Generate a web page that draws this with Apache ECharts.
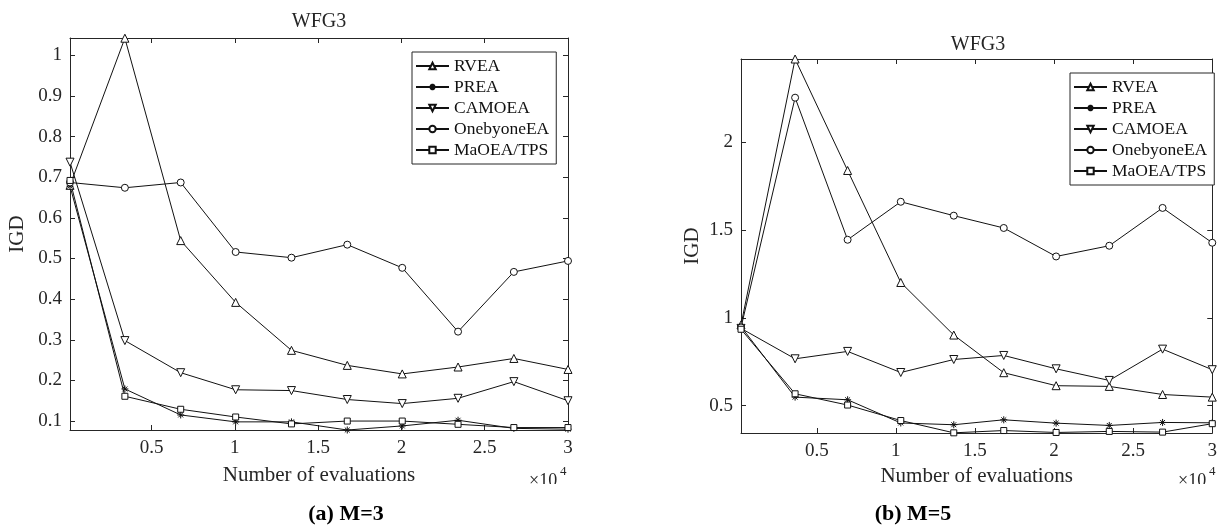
<!DOCTYPE html>
<html>
<head>
<meta charset="utf-8">
<title>WFG3 IGD convergence</title>
<script src="https://cdn.jsdelivr.net/npm/echarts@6/dist/echarts.min.js"></script>
<style>
  html, body { margin: 0; padding: 0; background: #fff; }
  #chart { width: 1220px; height: 529px; }
</style>
</head>
<body>
<div id="chart"></div>
<script>
// Algorithms compared
const algorithms = ['RVEA', 'PREA', 'CAMOEA', 'OnebyoneEA', 'MaOEA/TPS'];

// (a) M=3 : evaluations and IGD per algorithm
const evalsM3 = [105, 3400, 6750, 10050, 13400, 16750, 20050, 23400, 26750, 30000];
const rveaM3 = [0.680, 1.042, 0.544, 0.392, 0.274, 0.237, 0.216, 0.233, 0.254, 0.227];
const preaM3 = [0.678, 0.179, 0.115, 0.098, 0.098, 0.078, 0.088, 0.102, 0.082, 0.080];
const camoeaM3 = [0.737, 0.298, 0.219, 0.177, 0.175, 0.153, 0.143, 0.156, 0.197, 0.150];
const onebyoneM3 = [0.687, 0.674, 0.687, 0.516, 0.502, 0.534, 0.477, 0.320, 0.467, 0.494];
const maoeaM3 = [0.692, 0.161, 0.129, 0.110, 0.093, 0.100, 0.100, 0.092, 0.084, 0.084];

// (b) M=5 : evaluations and IGD per algorithm
const evalsM5 = [210, 3630, 6950, 10310, 13660, 16820, 20130, 23490, 26860, 30000];
const rveaM5 = [0.960, 2.472, 1.838, 1.201, 0.902, 0.688, 0.614, 0.610, 0.564, 0.549];
const preaM5 = [0.950, 0.549, 0.534, 0.402, 0.392, 0.420, 0.401, 0.388, 0.405, 0.403];
const camoeaM5 = [0.940, 0.767, 0.809, 0.689, 0.763, 0.786, 0.710, 0.644, 0.822, 0.705];
const onebyoneM5 = [0.945, 2.252, 1.444, 1.660, 1.581, 1.511, 1.349, 1.410, 1.625, 1.427];
const maoeaM5 = [0.935, 0.568, 0.504, 0.416, 0.346, 0.359, 0.348, 0.354, 0.350, 0.398];

// Tick values
const xTicks = [5000, 10000, 15000, 20000, 25000, 30000];
const yTicksM3 = [0.1, 0.2, 0.3, 0.4, 0.5, 0.6, 0.7, 0.8, 0.9, 1];
const yTicksM5 = [0.5, 1, 1.5, 2];

const FONT = '"Liberation Serif", "Times New Roman", serif';
const INK = '#262626';

const asterisk = 'path://M5,0L5,10M0,5L10,5M1.5,1.5L8.5,8.5M1.5,8.5L8.5,1.5';
const markerStyle = [
  { symbol: 'triangle', symbolSize: 8, symbolRotate: 0 },
  { symbol: asterisk, symbolSize: 7, symbolRotate: 0 },
  { symbol: 'triangle', symbolSize: 8, symbolRotate: 180 },
  { symbol: 'circle', symbolSize: 7, symbolRotate: 0 },
  { symbol: 'rect', symbolSize: 6, symbolRotate: 0 }
];

function pairs(xs, ys) { return xs.map((x, i) => [x, ys[i]]); }

function makeSeries(gridIdx, xs, ysList) {
  return ysList.map((ys, k) => ({
    name: algorithms[k],
    type: 'line',
    xAxisIndex: gridIdx * 2,
    yAxisIndex: gridIdx * 2,
    data: pairs(xs, ys),
    symbol: markerStyle[k].symbol,
    symbolSize: markerStyle[k].symbolSize,
    symbolRotate: markerStyle[k].symbolRotate,
    showAllSymbol: true,
    lineStyle: { color: '#111', width: 1 },
    itemStyle: { color: '#fff', borderColor: '#111', borderWidth: 1 },
    emphasis: { disabled: true },
    z: 2
  }));
}

function xAxes(gridIdx, minX, nameGap) {
  const common = {
    gridIndex: gridIdx, type: 'value', min: minX, max: 30000,
    axisLine: { show: true, onZero: false, lineStyle: { color: INK, width: 1 } },
    axisTick: { show: true, inside: true, length: 5, customValues: xTicks, lineStyle: { color: INK } },
    splitLine: { show: false }
  };
  return [
    Object.assign({}, common, {
      position: 'bottom',
      axisLabel: {
        customValues: xTicks, margin: 9, color: INK, fontFamily: FONT, fontSize: 19,
        formatter: v => String(v / 10000)
      },
      name: 'Number of evaluations', nameLocation: 'middle', nameGap: nameGap,
      nameTextStyle: { color: INK, fontFamily: FONT, fontSize: 21 }
    }),
    Object.assign({}, common, { position: 'top', axisLabel: { show: false } })
  ];
}

function yAxes(gridIdx, minY, maxY, ticks, nameGap) {
  const common = {
    gridIndex: gridIdx, type: 'value', min: minY, max: maxY,
    axisLine: { show: true, onZero: false, lineStyle: { color: INK, width: 1 } },
    axisTick: { show: true, inside: true, length: 5, customValues: ticks, lineStyle: { color: INK } },
    splitLine: { show: false }
  };
  return [
    Object.assign({}, common, {
      position: 'left',
      axisLabel: {
        customValues: ticks, margin: 8, color: INK, fontFamily: FONT, fontSize: 19,
        formatter: v => String(+v.toFixed(2))
      },
      name: 'IGD', nameLocation: 'middle', nameGap: nameGap, nameRotate: 90,
      nameTextStyle: { color: INK, fontFamily: FONT, fontSize: 21 }
    }),
    Object.assign({}, common, { position: 'right', axisLabel: { show: false } })
  ];
}

function legendAt(left, top) {
  return {
    data: algorithms, orient: 'vertical', left: left, top: top,
    backgroundColor: '#fff', borderColor: INK, borderWidth: 1,
    padding: [5, 7, 5, 3], itemGap: 3, itemWidth: 33, itemHeight: 8,
    textStyle: { color: '#111', fontFamily: FONT, fontSize: 17.5 },
    selectedMode: false, z: 5
  };
}

const chart = echarts.init(document.getElementById('chart'), null, { renderer: 'canvas' });

chart.setOption({
  animation: false,
  backgroundColor: '#fff',
  grid: [
    { left: 70, right: 652, top: 38, bottom: 99 },
    { left: 741, right: 4, top: 59, bottom: 96 }
  ],
  xAxis: [].concat(xAxes(0, evalsM3[0], 35), xAxes(1, evalsM5[0], 32)),
  yAxis: [].concat(yAxes(0, 0.078, 1.0425, yTicksM3, 42), yAxes(1, 0.345, 2.472, yTicksM5, 38)),
  legend: [legendAt(412, 52), legendAt(1070, 73)],
  series: [].concat(
    makeSeries(0, evalsM3, [rveaM3, preaM3, camoeaM3, onebyoneM3, maoeaM3]),
    makeSeries(1, evalsM5, [rveaM5, preaM5, camoeaM5, onebyoneM5, maoeaM5])
  ),
  graphic: [
    { type: 'text', x: 319, y: 22, style: { text: 'WFG3', fill: INK, font: '20px ' + FONT, textAlign: 'center', textVerticalAlign: 'middle' } },
    { type: 'text', x: 978, y: 45, style: { text: 'WFG3', fill: INK, font: '20px ' + FONT, textAlign: 'center', textVerticalAlign: 'middle' } },
    // exponent markers for the evaluation axes
    { type: 'text', x: 529, y: 472, style: { text: '×10', fill: INK, font: '18px ' + FONT, textVerticalAlign: 'top' } },
    { type: 'text', x: 560, y: 465, style: { text: '4', fill: INK, font: '13px ' + FONT, textVerticalAlign: 'top' } },
    { type: 'text', x: 1178, y: 472, style: { text: '×10', fill: INK, font: '18px ' + FONT, textVerticalAlign: 'top' } },
    { type: 'text', x: 1209, y: 465, style: { text: '4', fill: INK, font: '13px ' + FONT, textVerticalAlign: 'top' } },
    { type: 'rect', shape: { x: 520, y: 484, width: 60, height: 14 }, style: { fill: '#fff' }, z: 10 },
    { type: 'rect', shape: { x: 1170, y: 484, width: 50, height: 14 }, style: { fill: '#fff' }, z: 10 },
    // sub-figure captions
    { type: 'text', x: 346, y: 514, style: { text: '(a) M=3', fill: '#000', font: 'bold 22px ' + FONT, textAlign: 'center', textVerticalAlign: 'middle' } },
    { type: 'text', x: 913, y: 514, style: { text: '(b) M=5', fill: '#000', font: 'bold 22px ' + FONT, textAlign: 'center', textVerticalAlign: 'middle' } }
  ]
});
</script>
</body>
</html>
